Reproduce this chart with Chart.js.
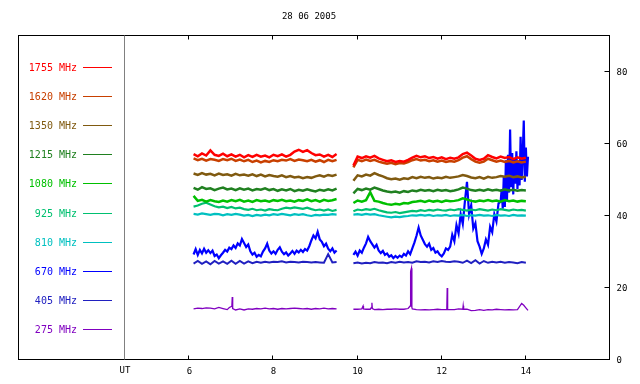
<!DOCTYPE html>
<html>
<head>
<meta charset="utf-8">
<script src="https://cdn.jsdelivr.net/npm/chart.js"></script>
<style>
  body { margin: 0; background: #fff; }
  canvas { display: block; }
</style>
</head>
<body>
<canvas id="myChart" width="640" height="384"></canvas>
<script>
// data ===============================================================
const title = "28 06 2005";
const freqLabels = ["1755 MHz", "1620 MHz", "1350 MHz", "1215 MHz", "1080 MHz",
                    "925 MHz", "810 MHz", "670 MHz", "405 MHz", "275 MHz"];
const freqColors = ["#ff0000", "#c84000", "#805a10", "#208020", "#00c000",
                    "#00c070", "#00c0c0", "#0000ff", "#2020c0", "#8000c0"];
const xTicks = [6, 8, 10, 12, 14];
const yTicks = [0, 20, 40, 60, 80];

// UT hours, 0.1 h steps, null point at 9.7 for the gap
const hoursA = [6.1,6.2,6.3,6.4,6.5,6.6,6.7,6.8,6.9,7.0,
                7.1,7.2,7.3,7.4,7.5,7.6,7.7,7.8,7.9,8.0,
                8.1,8.2,8.3,8.4,8.5,8.6,8.7,8.8,8.9,9.0,
                9.1,9.2,9.3,9.4,9.5, 9.7,
                9.9,10.0,10.1,10.2,10.3,10.4,10.5,10.6,10.7,10.8,
                10.9,11.0,11.1,11.2,11.3,11.4,11.5,11.6,11.7,11.8,
                11.9,12.0,12.1,12.2,12.3,12.4,12.5,12.6,12.7,12.8,
                12.9,13.0,13.1,13.2,13.3,13.4,13.5,13.6,13.7,13.8,
                13.9,14.0];

const f1755 = [57.2,56.6,57.4,56.8,58.2,57.0,56.7,57.3,56.6,57.1,
               56.5,57.0,56.3,56.9,56.4,57.0,56.5,56.8,56.3,57.0,
               56.6,57.1,56.5,57.0,57.9,58.4,57.8,58.3,57.5,56.9,
               57.1,56.5,57.0,56.4,57.2, null,
               54.0,56.5,56.1,56.6,56.2,56.7,56.0,55.6,55.2,55.5,
               55.0,55.3,55.1,55.6,56.2,56.7,56.3,56.6,56.1,56.4,
               55.9,56.3,55.8,56.2,55.9,56.3,57.2,57.6,56.8,55.9,
               55.6,55.9,56.9,56.4,56.0,56.5,56.1,56.4,55.8,56.3,
               55.9,56.2];
const f1620 = [56.0,55.5,55.9,55.4,55.8,55.6,55.3,55.8,55.5,55.9,
               55.3,55.7,55.2,55.6,55.0,55.4,54.9,55.3,55.0,55.5,
               55.2,55.6,55.4,55.8,55.3,55.7,55.5,55.2,55.6,55.1,
               55.5,55.0,55.6,55.2,55.6, null,
               53.5,55.6,55.2,55.7,55.3,55.6,55.1,54.8,54.5,54.8,
               54.4,54.7,54.6,55.0,55.5,55.8,55.4,55.6,55.2,55.5,
               55.1,55.4,55.0,55.3,55.1,55.5,56.2,56.6,55.8,55.1,
               54.8,55.1,55.9,55.5,55.1,55.4,55.0,55.3,54.9,55.2,
               54.9,55.1];
const f1350 = [51.8,51.4,51.9,51.5,51.7,51.3,51.8,51.4,51.6,51.2,
               51.7,51.3,51.5,51.2,51.6,51.1,51.5,51.0,51.4,51.1,
               50.9,51.3,50.8,51.1,50.7,50.9,50.5,50.8,50.6,51.0,
               51.3,50.9,51.4,51.1,51.5, null,
               49.8,51.3,51.0,51.5,51.2,51.9,51.4,51.0,50.5,50.2,
               50.4,50.1,50.5,50.3,50.8,50.5,50.9,50.6,50.8,50.4,
               50.7,50.5,50.9,50.6,50.8,51.0,51.4,51.1,50.7,50.5,
               50.8,50.4,50.9,50.6,50.8,51.1,50.9,51.2,50.8,51.0,
               50.7,50.9];
const f1215 = [47.8,47.3,48.0,47.5,47.7,47.2,47.6,47.9,47.4,47.6,
               47.2,47.7,47.3,47.6,47.1,47.5,47.3,47.7,47.2,47.5,
               47.0,47.4,47.1,47.5,46.9,47.3,47.0,47.4,47.1,46.8,
               47.3,47.0,47.4,47.1,47.6, null,
               46.3,47.5,47.2,47.6,47.3,47.9,47.5,47.1,46.8,46.6,
               46.8,46.5,46.9,46.7,47.1,46.9,47.3,47.0,47.2,46.9,
               47.3,47.0,47.2,46.9,47.1,47.4,47.9,47.6,47.2,47.0,
               47.3,47.0,47.4,47.1,47.3,47.0,47.4,47.1,47.3,47.0,
               47.2,47.1];
const f1080 = [45.6,44.2,44.5,44.0,44.4,44.1,43.9,44.3,44.0,44.4,
               44.1,44.5,44.0,44.3,43.9,44.4,44.1,44.3,44.0,44.4,
               44.2,44.5,44.1,44.3,44.0,44.4,44.2,44.6,44.1,44.4,
               44.0,44.5,44.2,44.4,44.7, null,
               43.6,44.3,44.0,44.4,46.6,44.2,44.0,43.6,43.3,43.1,
               43.4,43.2,43.6,43.5,43.9,44.0,44.2,43.9,44.3,44.0,
               44.2,43.9,44.3,44.1,44.2,44.4,44.9,44.6,44.2,44.0,
               44.3,44.1,44.4,44.1,44.3,44.0,44.4,44.1,44.3,44.0,
               44.2,44.1];
const f925 = [42.6,42.9,43.4,43.7,43.2,42.7,42.4,42.6,42.2,42.5,
              42.1,42.3,41.9,41.7,42.0,41.6,41.8,41.5,41.9,41.7,
              41.6,42.0,42.3,42.1,42.4,42.2,42.0,42.3,41.9,41.6,
              41.8,41.5,41.8,41.4,41.7, null,
              41.3,41.8,41.6,41.9,41.7,42.0,41.6,41.3,41.0,40.9,
              41.1,40.8,41.0,41.2,41.4,41.3,41.6,41.4,41.7,41.5,
              41.8,41.6,41.5,41.8,41.6,41.9,41.7,41.5,41.8,41.6,
              41.9,41.7,41.5,41.8,41.6,41.9,41.7,41.5,41.8,41.6,
              41.7,41.5];
const f810 = [40.6,40.4,40.7,40.5,40.3,40.6,40.5,40.2,40.5,40.3,
              40.6,40.4,40.1,40.3,40.0,40.3,40.1,40.4,40.2,40.5,
              40.3,40.6,40.4,40.2,40.5,40.3,40.5,40.2,40.0,40.3,
              40.2,40.4,40.3,40.5,40.4, null,
              40.4,40.5,40.3,40.6,40.4,40.5,40.2,40.0,39.8,39.6,
              39.8,39.7,39.9,40.0,40.2,40.1,40.3,40.1,40.3,40.0,
              40.2,40.1,40.3,40.0,40.2,40.1,40.3,40.0,40.2,40.1,
              40.3,40.1,40.2,40.0,40.3,40.1,40.2,40.0,40.3,40.1,
              40.2,40.1];
const f405 = [26.8,27.5,26.7,27.4,26.6,27.5,26.8,27.4,26.7,27.6,
              26.7,27.5,26.8,27.4,26.9,27.3,27.0,27.3,27.1,27.3,
              27.2,27.4,27.1,27.3,27.2,27.1,27.3,27.2,27.1,27.2,
              27.1,27.0,29.4,27.1,27.2, null,
              26.9,27.1,26.8,27.0,26.9,27.2,27.0,27.1,26.9,27.2,
              27.0,27.3,27.1,27.2,27.0,27.4,27.2,27.3,27.1,27.4,
              27.2,27.5,27.3,27.2,27.4,27.3,27.0,27.6,26.9,27.7,
              26.8,27.5,27.0,27.3,27.1,27.3,27.0,27.2,27.1,26.9,
              27.2,27.0];

// 670 MHz, 0.05 h steps, 0.025 h during the late burst
const hoursB = [6.10,6.15,6.20,6.25,6.30,6.35,6.40,6.45,6.50,6.55,
                6.60,6.65,6.70,6.75,6.80,6.85,6.90,6.95,7.00,7.05,
                7.10,7.15,7.20,7.25,7.30,7.35,7.40,7.45,7.50,7.55,
                7.60,7.65,7.70,7.75,7.80,7.85,7.90,7.95,8.00,8.05,
                8.10,8.15,8.20,8.25,8.30,8.35,8.40,8.45,8.50,8.55,
                8.60,8.65,8.70,8.75,8.80,8.85,8.90,8.95,9.00,9.05,
                9.10,9.15,9.20,9.25,9.30,9.35,9.40,9.45,9.50, 9.70,
                9.90,9.95,10.00,10.05,10.10,10.15,10.20,10.25,10.30,10.35,
                10.40,10.45,10.50,10.55,10.60,10.65,10.70,10.75,10.80,10.85,
                10.90,10.95,11.00,11.05,11.10,11.15,11.20,11.25,11.30,11.35,
                11.40,11.45,11.50,11.55,11.60,11.65,11.70,11.75,11.80,11.85,
                11.90,11.95,12.00,12.05,12.10,12.15,
                12.20,12.25,12.30,12.35,12.40,12.45,12.50,12.55,12.60,12.65,
                12.70,12.75,12.80,12.85,12.90,12.95,13.00,13.05,13.10,13.15,
                13.20,13.25,13.30,13.35,
                13.400,13.425,13.450,13.475,13.500,13.525,13.550,13.575,13.600,13.625,
                13.650,13.675,13.700,13.725,13.750,13.775,13.800,13.825,13.850,13.875,
                13.900,13.925,13.950,13.975,14.000,14.025,14.050];
const f670 = [29.3,30.8,29.2,30.6,29.6,30.9,29.8,30.5,29.7,30.4,
              28.9,29.3,28.3,29.1,29.8,30.6,30.1,31.2,30.8,31.8,
              31.1,32.4,31.8,33.6,32.5,31.4,32.1,30.2,29.3,29.8,
              28.7,29.2,28.8,30.1,31.0,32.3,30.4,29.6,30.2,29.5,
              30.6,31.3,30.1,29.4,29.9,29.0,29.6,30.3,29.5,30.4,
              29.9,30.6,30.0,30.8,30.4,31.6,33.2,34.6,33.8,35.6,
              33.5,32.8,31.6,32.3,30.9,30.2,31.0,29.8,30.4, null,
              29.2,30.1,29.0,30.4,29.8,31.2,32.4,34.2,33.0,32.1,
              31.2,32.0,30.4,29.7,30.3,29.2,29.6,28.7,29.1,28.3,
              28.9,28.4,29.0,28.6,29.5,29.0,30.2,29.4,31.0,32.6,
              34.5,36.8,34.6,33.4,32.2,31.5,32.3,30.6,31.1,29.8,
              30.2,29.3,28.8,29.6,31.0,30.6,
              31.5,34.8,33.0,37.5,35.2,40.5,37.8,44.0,49.5,40.5,
              43.0,36.5,38.0,33.0,31.5,29.5,31.0,33.5,32.0,37.0,
              35.5,40.5,38.5,43.5,
              44.0,47.5,42.0,51.0,42.5,55.5,44.0,57.0,46.5,64.0,
              48.0,57.5,46.0,56.0,49.0,58.0,47.5,55.5,48.5,62.0,
              50.0,57.0,66.5,49.5,59.0,51.0,56.5];

// 275 MHz, extra points at the short bursts
const hoursP = [6.1,6.2,6.3,6.4,6.5,6.6,6.7,6.8,6.9,6.95,
                7.01,7.02,7.03,7.1,7.2,7.3,7.4,7.5,7.6,7.7,
                7.8,7.9,8.0,8.1,8.2,8.3,8.4,8.5,8.6,8.7,
                8.8,8.9,9.0,9.1,9.2,9.3,9.4,9.5, 9.7,
                9.9,10.0,10.1,10.13,10.14,10.2,10.3,10.33,10.34,10.35,
                10.4,10.5,10.6,10.7,10.8,10.9,11.0,11.1,11.2,11.25,
                11.26,11.28,11.29,11.3,11.4,11.5,11.6,11.7,11.8,11.9,
                12.0,12.1,12.12,12.13,12.14,12.2,12.3,12.4,12.5,12.51,
                12.52,12.6,12.7,12.8,12.9,13.0,13.1,13.2,13.3,13.4,
                13.5,13.6,13.7,13.8,13.9,13.95,14.0,14.05];
const f275 = [14.2,14.4,14.3,14.5,14.4,14.2,14.6,14.3,14.0,14.6,
              14.9,17.5,14.3,13.9,14.2,13.9,14.2,14.1,14.3,14.2,
              14.4,14.2,14.3,14.1,14.3,14.2,14.3,14.4,14.3,14.2,
              14.3,14.1,14.3,14.2,14.4,14.2,14.3,14.2, null,
              14.1,14.1,14.2,15.0,14.2,14.1,14.1,14.6,15.9,14.3,
              14.0,14.1,14.0,14.1,14.1,14.2,14.1,14.1,14.3,15.0,
              24.6,25.5,14.6,14.2,14.0,13.9,14.0,13.9,14.0,14.1,
              14.0,14.0,14.0,20.0,14.0,14.0,14.0,14.2,14.1,15.1,
              14.1,14.1,13.7,13.8,14.0,13.8,14.0,13.9,14.1,14.0,
              13.9,14.0,13.9,14.0,15.7,15.2,14.5,13.8];

// chart ===============================================================
function pts(hours, vals) {
    return hours.map((h, i) => ({ x: h, y: vals[i] }));
}

function frameAndLegend() {
    return {
        id: 'frameAndLegend',
        afterDraw(chart) {
            const ctx = chart.ctx;
            const xs = chart.scales.x, ys = chart.scales.y;
            const top = Math.round(ys.getPixelForValue(90)) - 0.5;
            const bottom = Math.round(ys.getPixelForValue(0)) - 0.5;
            const right = Math.round(xs.getPixelForValue(16)) - 0.5;
            const ut = Math.round(xs.left) - 0.5;
            const left = 18.5;
            ctx.save();
            ctx.lineWidth = 1;
            ctx.strokeStyle = '#000';
            ctx.strokeRect(left, top, right - left, bottom - top);
            // UT separator
            ctx.strokeStyle = '#808080';
            ctx.beginPath();
            ctx.moveTo(ut, top); ctx.lineTo(ut, bottom);
            ctx.stroke();
            // x ticks top and bottom, y ticks on the right
            ctx.strokeStyle = '#000';
            ctx.beginPath();
            xTicks.forEach(t => {
                const px = Math.round(xs.getPixelForValue(t)) - 0.5;
                ctx.moveTo(px, bottom); ctx.lineTo(px, bottom - 4);
                ctx.moveTo(px, top); ctx.lineTo(px, top + 4);
            });
            yTicks.forEach(t => {
                if (t === 0) return;
                const py = Math.round(ys.getPixelForValue(t)) - 0.5;
                ctx.moveTo(right, py); ctx.lineTo(right - 5, py);
            });
            ctx.stroke();
            // labels
            ctx.fillStyle = '#000';
            ctx.font = '9px "DejaVu Sans Mono"';
            ctx.textAlign = 'center';
            ctx.textBaseline = 'middle';
            xTicks.forEach(t => ctx.fillText(String(t), xs.getPixelForValue(t), 372));
            ctx.fillText('UT', xs.left, 371);
            ctx.fillText(title, 309, 17);
            ctx.textAlign = 'left';
            yTicks.forEach(t => ctx.fillText(String(t), right + 7, ys.getPixelForValue(t) + 1));
            // frequency legend
            ctx.font = '10px "DejaVu Sans Mono"';
            ctx.textAlign = 'right';
            freqLabels.forEach((lab, i) => {
                const py = Math.round(68 + i * 29.1) - 0.5;
                ctx.fillStyle = freqColors[i];
                ctx.fillText(lab, 77, py + 1);
                ctx.strokeStyle = freqColors[i];
                ctx.beginPath();
                ctx.moveTo(83, py); ctx.lineTo(112, py);
                ctx.stroke();
            });
            ctx.restore();
        }
    };
}

function plot_radio() {
    const series = [
        pts(hoursA, f1755), pts(hoursA, f1620), pts(hoursA, f1350), pts(hoursA, f1215),
        pts(hoursA, f1080), pts(hoursA, f925), pts(hoursA, f810), pts(hoursB, f670),
        pts(hoursA, f405), pts(hoursP, f275)
    ];
    const widths = [2.5, 2.5, 2.5, 2.5, 2.5, 2.2, 2.2, 2.2, 2, 1.3];
    const datasets = series.map((d, i) => ({
        label: freqLabels[i],
        data: d,
        borderColor: freqColors[i],
        borderWidth: widths[i],
        pointRadius: 0,
        fill: false,
        tension: 0,
        spanGaps: false,
    }));
    new Chart(document.getElementById("myChart"), {
        type: "line",
        data: { datasets: datasets },
        options: {
            responsive: false,
            animation: false,
            devicePixelRatio: 1,
            layout: { padding: { left: 125, top: 36, right: 30, bottom: 24 } },
            plugins: { legend: { display: false }, tooltip: { enabled: false } },
            scales: {
                x: { type: "linear", min: 4.47, max: 16, display: false },
                y: { min: 0, max: 90, display: false },
            },
        },
        plugins: [frameAndLegend()]
    });
}

plot_radio();
</script>
</body>
</html>
